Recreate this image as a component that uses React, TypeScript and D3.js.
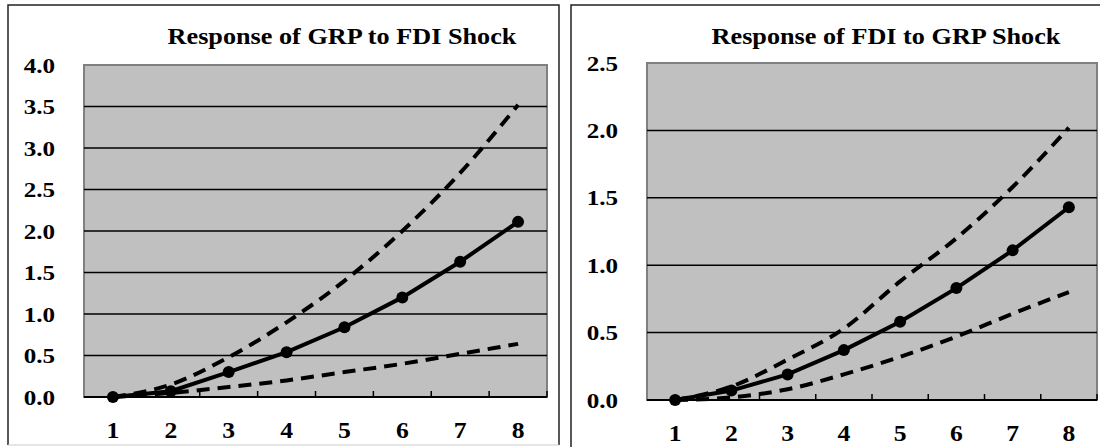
import React, { useEffect } from "react";
import * as d3 from "d3";

// periods on the x axis
const periods = [1, 2, 3, 4, 5, 6, 7, 8];

// Response of GRP to FDI shock
const grpResponse = [0, 0.07, 0.3, 0.54, 0.84, 1.2, 1.63, 2.11];
const grpUpper = [0, 0.15, 0.48, 0.9, 1.4, 2.0, 2.7, 3.52];
const grpLower = [0, 0.05, 0.12, 0.2, 0.3, 0.4, 0.52, 0.64];
const grpTicks = [0, 0.5, 1.0, 1.5, 2.0, 2.5, 3.0, 3.5, 4.0];

// Response of FDI to GRP shock
const fdiResponse = [0, 0.07, 0.19, 0.37, 0.58, 0.83, 1.11, 1.43];
const fdiUpper = [0, 0.1, 0.3, 0.53, 0.88, 1.2, 1.58, 2.02];
const fdiLower = [0, 0.02, 0.08, 0.19, 0.32, 0.47, 0.64, 0.8];
const fdiTicks = [0, 0.5, 1.0, 1.5, 2.0, 2.5];

const FONT = "'Liberation Serif', 'Times New Roman', serif";
const STRETCH = 1.14; // the source picture is a bit wider than tall

const App: React.FC = () => {
  useEffect(() => {
    d3.select("#viz_container").select("svg").remove();

    const svg = d3
      .select("#viz_container")
      .append("svg")
      .attr("width", 1100)
      .attr("height", 447)
      .style("position", "absolute")
      .style("left", "0px")
      .style("top", "0px")
      .style("background", "#fff");

    const label = (parent: any, x: number, y: number, txt: string, size: number, anchor: string) =>
      parent
        .append("text")
        .attr("transform", `translate(${x},${y}) scale(${STRETCH},1)`)
        .attr("text-anchor", anchor)
        .attr("font-family", FONT)
        .attr("font-weight", "bold")
        .attr("font-size", size)
        .attr("fill", "#000")
        .text(txt);

    const drawPanel = (opts: any) => {
      const { box, plot, title, titleX, mid, upper, lower, ticks, yMax } = opts;

      // panel frame
      const frame = svg.append("g");
      frame
        .append("path")
        .attr("d", `M${box.x0},${box.y1}V${box.y0}H${box.x1}` + (box.right ? `V${box.y1}` : ""))
        .attr("fill", "none")
        .attr("stroke", "#222")
        .attr("stroke-width", 1.5);
      if (box.right) {
        frame
          .append("line")
          .attr("x1", box.x0)
          .attr("x2", box.x1)
          .attr("y1", box.y1)
          .attr("y2", box.y1)
          .attr("stroke", "#ccc")
          .attr("stroke-width", 1);
      }

      label(frame, titleX, 44, title, 23, "middle");

      const x = d3
        .scaleBand<number>()
        .domain(periods)
        .range([plot.x0, plot.x1]);
      const cx = (p: number) => (x(p) as number) + x.bandwidth() / 2;

      const y = d3.scaleLinear().domain([0, yMax]).range([plot.y1, plot.y0]);

      const g = svg.append("g");

      g.append("rect")
        .attr("x", plot.x0)
        .attr("y", plot.y0)
        .attr("width", plot.x1 - plot.x0)
        .attr("height", plot.y1 - plot.y0)
        .attr("fill", "#c0c0c0")
        .attr("stroke", "#808080")
        .attr("stroke-width", 2);

      // grid lines
      g.selectAll("line.grid")
        .data(ticks.filter((t: number) => t > 0 && t < yMax))
        .join("line")
        .attr("class", "grid")
        .attr("x1", plot.x0)
        .attr("x2", plot.x1)
        .attr("y1", (d: number) => y(d))
        .attr("y2", (d: number) => y(d))
        .attr("stroke", "#000")
        .attr("stroke-width", 1.5);

      // x axis line
      g.append("line")
        .attr("x1", plot.x0)
        .attr("x2", plot.x1)
        .attr("y1", plot.y1)
        .attr("y2", plot.y1)
        .attr("stroke", "#000")
        .attr("stroke-width", 2);
      // tick marks between categories, pointing up into the plot
      g.selectAll("line.xtick")
        .data(periods.slice(1).concat([periods.length + 1]))
        .join("line")
        .attr("class", "xtick")
        .attr("x1", (d: number) => (d <= periods.length ? (x(d) as number) : plot.x1))
        .attr("x2", (d: number) => (d <= periods.length ? (x(d) as number) : plot.x1))
        .attr("y1", plot.y1)
        .attr("y2", plot.y1 - 6)
        .attr("stroke", "#000")
        .attr("stroke-width", 1.5);

      // x labels
      periods.forEach((p) => label(g, cx(p), plot.y1 + 41, String(p), 22.5, "middle"));

      // y labels
      const fmt = d3.format(".1f");
      ticks.forEach((t: number) => label(g, plot.x0 - 29, y(t) + 7.5, fmt(t), 22, "end"));

      // confidence bands (dashed, smoothed)
      const smooth = d3
        .line<number>()
        .x((d, i) => cx(periods[i]))
        .y((d) => y(d))
        .curve(d3.curveMonotoneX);
      [upper, lower].forEach((band: number[]) => {
        g.append("path")
          .attr("d", smooth(band))
          .attr("fill", "none")
          .attr("stroke", "#000")
          .attr("stroke-width", 4)
          .attr("stroke-dasharray", "13,8");
      });

      // impulse response
      const straight = d3
        .line<number>()
        .x((d, i) => cx(periods[i]))
        .y((d) => y(d));
      g.append("path")
        .attr("d", straight(mid))
        .attr("fill", "none")
        .attr("stroke", "#000")
        .attr("stroke-width", 4);
      g.selectAll("circle")
        .data(mid)
        .join("circle")
        .attr("cx", (d: number, i: number) => cx(periods[i]))
        .attr("cy", (d: number) => y(d))
        .attr("r", 6)
        .attr("fill", "#000");
    };

    drawPanel({
      box: { x0: 8, y0: 5, x1: 559, y1: 445, right: true },
      plot: { x0: 84, y0: 65, x1: 547, y1: 397 },
      title: "Response of GRP to FDI Shock",
      titleX: 342,
      mid: grpResponse,
      upper: grpUpper,
      lower: grpLower,
      ticks: grpTicks,
      yMax: 4.0,
    });

    drawPanel({
      box: { x0: 571, y0: 5, x1: 1100, y1: 447, right: false },
      plot: { x0: 647, y0: 63, x1: 1097, y1: 400 },
      title: "Response of FDI to GRP Shock",
      titleX: 886,
      mid: fdiResponse,
      upper: fdiUpper,
      lower: fdiLower,
      ticks: fdiTicks,
      yMax: 2.5,
    });
  }, []);

  return <div id="viz_container" />;
};

export default App;
